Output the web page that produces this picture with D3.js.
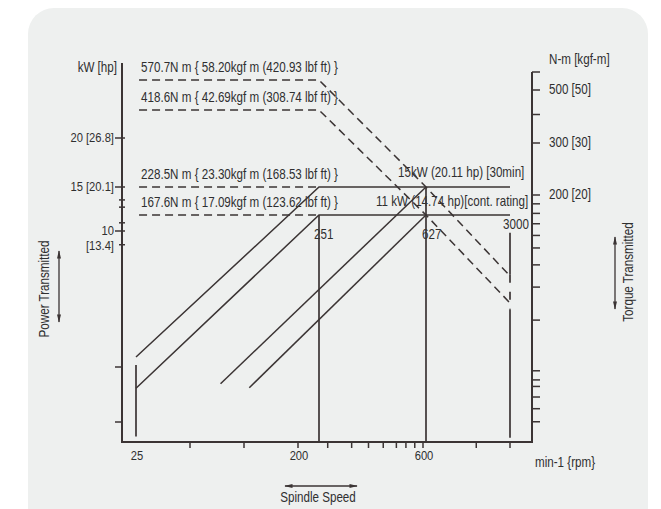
<!DOCTYPE html>
<html><head><meta charset="utf-8">
<script src="https://cdn.jsdelivr.net/npm/d3@7"></script>
<style>
html,body{margin:0;padding:0;background:#fff;}
svg{display:block;font-family:"Liberation Sans Narrow","Arial Narrow","Liberation Sans",Arial,sans-serif;}
</style></head><body>
<svg id="chart" width="661" height="509"></svg>
<script>
// ---- axis ticks and labels ----
const speedTicks = [50, 100, 200, 270, 330, 380, 430, 480, 520, 560, 600, 1600, 3000];
const speedLabels = [25, 200, 600];
const powerTicks = [20, 15, 13, 12, 10.5, 10, 8.5, 2, 1];
const powerLabelValues = [20, 15, 10];
const powerLabelTexts = [["20 [26.8]"], ["15 [20.1]"], ["10", "[13.4]"]];
const torqueTicks = [600, 500, 400, 300, 200, 185, 170, 140, 110, 85, 60, 42, 30, 19, 17.5, 16.5, 15, 13.5, 12];
const torqueLabelValues = [500, 300, 200];
const torqueLabelTexts = ["500 [50]", "300 [30]", "200 [20]"];

// ---- output power (kW) against spindle speed (min-1) ----
const low30Speed = [25, 251, 3000],   low30Power = [2.25, 15, 15];
const lowContSpeed = [25, 251, 3000], lowContPower = [1.53, 11, 11];
const high30Speed = [74, 627],        high30Power = [1.62, 15];
const highContSpeed = [107, 627],     highContPower = [1.54, 11];

// ---- torque (N·m) against spindle speed ----
const torque30Speed = [26, 251, 627, 3000],   torque30 = [570.7, 570.7, 228.5, 47.7];
const torqueContSpeed = [26, 251, 627, 3000], torqueCont = [418.6, 418.6, 167.6, 35.0];
const highTorque30Speed = [26, 251],          highTorque30 = [228.5, 228.5];
const highTorqueContSpeed = [26, 251],        highTorqueCont = [167.6, 167.6];

// ---- speed limit verticals (kW span) ----
const limitSpeed  = [25, 251, 627, 3000, 3000, 3000];
const limitFrom   = [2.05, 11, 15, 9.8, 5.95, 3.95];
const limitTo     = [0.85, 0.8, 0.8, 5.95, 3.95, 0.84];
const limitDashed = [false, false, false, false, true, false];

// ---- annotations ----
const torqueNoteValues = [570.7, 418.6, 228.5, 167.6];
const torqueNotes = [
  "570.7N m { 58.20kgf m (420.93 lbf ft) }",
  "418.6N m { 42.69kgf m (308.74 lbf ft) }",
  "228.5N m { 23.30kgf m (168.53 lbf ft) }",
  "167.6N m { 17.09kgf m (123.62 lbf ft) }"
];
const powerNoteValues = [15, 11];
const powerNotes = ["15kW (20.11 hp) [30min]", "11 kW (14.74 hp)[cont. rating]"];
const speedNoteValues = [251, 627, 3000];

const ink = "#3b3434", textInk = "#2f2f2f";
const condense = 0.83;   // horizontal squeeze giving a narrow face
const svg = d3.select("#chart");

// background panel
svg.append("rect").attr("x", 28).attr("y", 8).attr("width", 620).attr("height", 530)
  .attr("rx", 26).attr("fill", "#eef0ef");

// schematic log scales (piecewise)
const x = d3.scaleLog()
  .domain([20, 25, 200, 251, 600, 627, 3000, 4500])
  .range([122, 136, 298, 319, 423, 426, 510, 532]);
const power = d3.scaleLog()
  .domain([0.8, 1, 2, 10, 11, 15, 20, 30])
  .range([442, 422, 367, 231, 215, 187, 138, 63]);
const torque = d3.scaleLog()
  .domain([10, 35.0, 47.7, 167.6, 200, 228.5, 300, 418.6, 500, 570.7, 600])
  .range([442, 303, 276, 215, 195, 187, 143, 110, 90, 80, 72]);

const x0 = x(20), x1 = x(4500), yBottom = power(0.8);

// ---- axes ----
const axes = svg.append("g").attr("stroke", ink).attr("stroke-width", 2).attr("fill", "none");
axes.append("line").attr("x1", x0).attr("x2", x0).attr("y1", power(30)).attr("y2", yBottom + 1);
axes.append("line").attr("x1", x0 - 1).attr("x2", x1 + 1).attr("y1", yBottom).attr("y2", yBottom);
axes.append("line").attr("x1", x1).attr("x2", x1).attr("y1", torque(600)).attr("y2", yBottom + 1);

axes.selectAll("line.sx").data(speedTicks).join("line").attr("class", "sx")
  .attr("stroke-width", 1.5)
  .attr("x1", d => x(d)).attr("x2", d => x(d)).attr("y1", yBottom).attr("y2", yBottom + 6);
axes.selectAll("line.py").data(powerTicks).join("line").attr("class", "py")
  .attr("stroke-width", 1.5)
  .attr("x1", d => powerLabelValues.includes(d) ? x0 - 7 : (d < 5 ? x0 - 7 : x0 - 3))
  .attr("x2", d => d < 5 ? x0 : x0 + 3)
  .attr("y1", d => power(d)).attr("y2", d => power(d));
axes.selectAll("line.ty").data(torqueTicks).join("line").attr("class", "ty")
  .attr("stroke-width", 1.5)
  .attr("x1", x1).attr("x2", x1 + 8)
  .attr("y1", d => torque(d)).attr("y2", d => torque(d));

// text helper: squeezes the lettering horizontally about its anchor point
const txt = svg.append("g").attr("fill", textInk).attr("font-size", 14);
function label(xp, yp, s, anchor = "start", size = 14) {
  return txt.append("text")
    .attr("x", xp).attr("y", yp)
    .attr("text-anchor", anchor).attr("font-size", size)
    .attr("transform", `translate(${xp * (1 - condense)},0) scale(${condense},1)`)
    .text(s);
}
function vlabel(xp, yp, s, size = 14) {
  return txt.append("text")
    .attr("text-anchor", "middle").attr("font-size", size)
    .attr("transform", `translate(${xp},${yp}) rotate(-90) scale(${condense},1)`)
    .text(s);
}

// ---- tick labels ----
speedLabels.forEach(d => label(x(d) + 1, yBottom + 18, d, "middle", 13.5));
powerLabelValues.forEach((v, i) => {
  powerLabelTexts[i].forEach((s, j) => label(x0 - 8, power(v) + 4 + j * 15.3, s, "end", 13.5));
});
torqueLabelValues.forEach((v, i) => label(x1 + 17, torque(v) + 4.5, torqueLabelTexts[i]));

// axis unit labels
label(x0 - 5, 72, "kW [hp]", "end");
label(x1 + 17, 64, "N-m [kgf-m]");
label(x1 + 3, 467, "min-1 {rpm}");

// ---- curves ----
const line = d3.line();
const series = (sp, vals, scale) => sp.map((s, i) => [x(s), scale(vals[i])]);
const curves = svg.append("g").attr("fill", "none").attr("stroke", ink);

// torque (dashed)
[[torque30Speed, torque30], [torqueContSpeed, torqueCont],
 [highTorque30Speed, highTorque30], [highTorqueContSpeed, highTorqueCont]].forEach(([s, v]) => {
  curves.append("path").attr("d", line(series(s, v, torque)))
    .attr("stroke-width", 1.5).attr("stroke-dasharray", "8,5");
});

// power (solid)
[[low30Speed, low30Power], [lowContSpeed, lowContPower],
 [high30Speed, high30Power], [highContSpeed, highContPower]].forEach(([s, v]) => {
  curves.append("path").attr("d", line(series(s, v, power))).attr("stroke-width", 1.5);
});

// speed limits
limitSpeed.forEach((s, i) => {
  curves.append("line")
    .attr("x1", x(s)).attr("x2", x(s))
    .attr("y1", power(limitFrom[i])).attr("y2", power(limitTo[i]))
    .attr("stroke-width", 1.7)
    .attr("stroke-dasharray", limitDashed[i] ? "8,9" : null);
});

// ---- annotations ----
torqueNoteValues.forEach((v, i) => label(x(26) + 2, torque(v) - 8, torqueNotes[i]));
label(398, power(powerNoteValues[0]) - 10, powerNotes[0]);
label(376, power(powerNoteValues[1]) - 9, powerNotes[1]);
label(x(251) - 5, 239, speedNoteValues[0]);
label(x(627) - 4, 239, speedNoteValues[1]);
label(x(3000) + 6, 229, speedNoteValues[2], "middle");

// ---- axis titles with double arrows ----
const defs = svg.append("defs");
defs.append("marker").attr("id", "ah").attr("viewBox", "0 0 10 6")
  .attr("refX", 9).attr("refY", 3).attr("markerWidth", 9).attr("markerHeight", 5)
  .attr("markerUnits", "userSpaceOnUse").attr("orient", "auto-start-reverse")
  .append("path").attr("d", "M0,0.6 L10,3 L0,5.4 Z").attr("fill", ink);

const arrow = (xa, ya, xb, yb) => svg.append("line")
  .attr("x1", xa).attr("y1", ya).attr("x2", xb).attr("y2", yb)
  .attr("stroke", ink).attr("stroke-width", 1.3)
  .attr("marker-start", "url(#ah)").attr("marker-end", "url(#ah)");

arrow(59, 251, 59, 322);
vlabel(49, 289, "Power Transmitted");
arrow(615, 237, 615, 309);
vlabel(633, 272, "Torque Transmitted");
arrow(285, 486, 357, 486);
label(318, 502, "Spindle Speed", "middle");
</script>
</body></html>
